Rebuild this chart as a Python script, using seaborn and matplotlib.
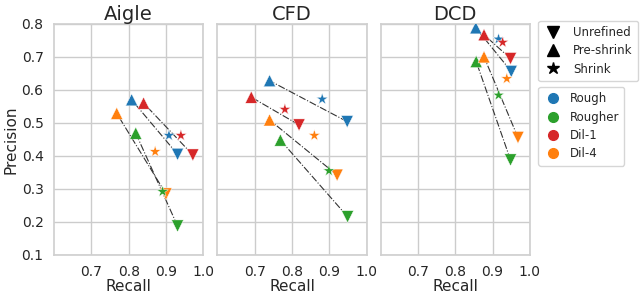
import numpy as np
import pandas as pd
import matplotlib
matplotlib.use("Agg")
import matplotlib.pyplot as plt
from matplotlib.lines import Line2D
import seaborn as sns

datasets = ["Aigle", "CFD", "DCD"]
models = ["Rough", "Rougher", "Dil-1", "Dil-4"]
stages = ["Unrefined", "Pre-shrink", "Shrink"]

# recall / precision per dataset, per model, order: Unrefined, Pre-shrink, Shrink
aigle_recall = {"Rough": [0.931, 0.808, 0.908], "Rougher": [0.931, 0.819, 0.891],
                "Dil-1": [0.972, 0.840, 0.940], "Dil-4": [0.900, 0.768, 0.871]}
aigle_precision = {"Rough": [0.405, 0.570, 0.462], "Rougher": [0.188, 0.469, 0.292],
                   "Dil-1": [0.403, 0.560, 0.462], "Dil-4": [0.285, 0.529, 0.413]}
cfd_recall = {"Rough": [0.948, 0.740, 0.881], "Rougher": [0.949, 0.769, 0.899],
              "Dil-1": [0.819, 0.691, 0.781], "Dil-4": [0.921, 0.740, 0.860]}
cfd_precision = {"Rough": [0.504, 0.628, 0.572], "Rougher": [0.216, 0.448, 0.355],
                 "Dil-1": [0.494, 0.578, 0.541], "Dil-4": [0.342, 0.509, 0.462]}
dcd_recall = {"Rough": [0.950, 0.855, 0.916], "Rougher": [0.948, 0.856, 0.916],
              "Dil-1": [0.948, 0.877, 0.927], "Dil-4": [0.968, 0.877, 0.938]}
dcd_precision = {"Rough": [0.656, 0.788, 0.754], "Rougher": [0.388, 0.686, 0.584],
                 "Dil-1": [0.695, 0.767, 0.744], "Dil-4": [0.456, 0.700, 0.634]}

recalls = [aigle_recall, cfd_recall, dcd_recall]
precisions = [aigle_precision, cfd_precision, dcd_precision]

palette = {"Rough": "#1f77b4", "Rougher": "#2ca02c", "Dil-1": "#d62728", "Dil-4": "#ff7f0e"}
markers = {"Unrefined": "v", "Pre-shrink": "^", "Shrink": "*"}
sizes = {"Unrefined": 75, "Pre-shrink": 75, "Shrink": 75}

sns.set_theme(style="whitegrid")
plt.rcParams["font.family"] = ["DejaVu Sans"]

fig, axes = plt.subplots(1, 3, figsize=(6.4, 2.95), dpi=100, sharey=True)
fig.subplots_adjust(left=0.0844, right=0.828, top=0.919, bottom=0.1356, wspace=0.094)

for ax, name, rec, prec in zip(axes, datasets, recalls, precisions):
    rows = []
    for m in models:
        for i, s in enumerate(stages):
            rows.append({"Recall": rec[m][i], "Precision": prec[m][i], "model": m, "stage": s})
    df = pd.DataFrame(rows)
    for m in models:
        sub = df[(df.model == m) & (df.stage != "Shrink")]
        ax.plot(sub["Recall"], sub["Precision"], linestyle="-.", color="#333333",
                linewidth=0.8, zorder=1)
    for s in stages:
        sub = df[df.stage == s]
        sns.scatterplot(data=sub, x="Recall", y="Precision", hue="model", palette=palette,
                        marker=markers[s], s=sizes[s], linewidth=0.3, ax=ax,
                        legend=False, zorder=3)
    ax.set_xlim(0.6, 1.0)
    ax.set_ylim(0.1, 0.8)
    ax.set_xticks([0.7, 0.8, 0.9, 1.0])
    ax.set_yticks([0.1, 0.2, 0.3, 0.4, 0.5, 0.6, 0.7, 0.8])
    ax.set_title(name, fontsize=14, pad=3)
    ax.set_xlabel("Recall", fontsize=11, labelpad=0)
    ax.tick_params(labelsize=10, pad=1.5)
    for sp in ax.spines.values():
        sp.set_color("#d0d0d0")

axes[0].set_ylabel("Precision", fontsize=11, labelpad=2)
for ax in axes[1:]:
    ax.set_ylabel("")

h1 = [Line2D([], [], linestyle="", marker=markers[s], color="black", markersize=8 if s != "Shrink" else 9)
      for s in stages]
leg1 = fig.legend(h1, stages, loc="upper left", bbox_to_anchor=(0.832, 0.95),
                  fontsize=8.5, frameon=True, handletextpad=0.9, borderpad=0.45,
                  labelspacing=0.45, handlelength=1.6)
h2 = [Line2D([], [], linestyle="", marker="o", color=palette[m], markersize=7) for m in models]
leg2 = fig.legend(h2, models, loc="upper left", bbox_to_anchor=(0.832, 0.725),
                  fontsize=8.5, frameon=True, handletextpad=0.6, borderpad=0.45,
                  labelspacing=0.45, handlelength=1.6)

fig.savefig("out.png", dpi=100)
